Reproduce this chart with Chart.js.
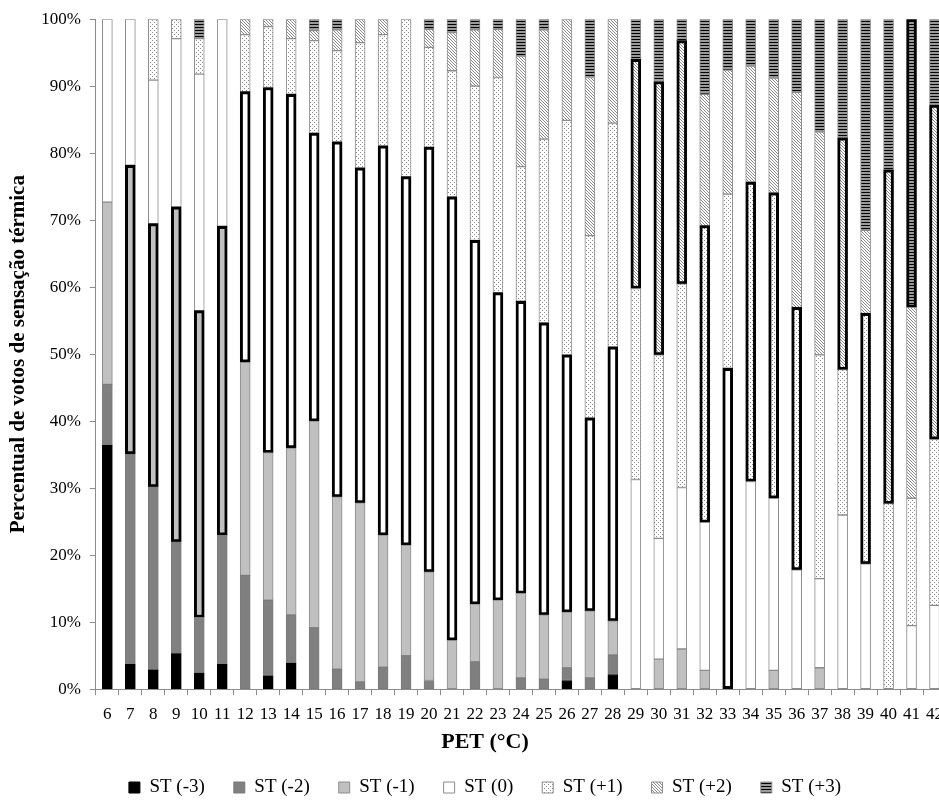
<!DOCTYPE html>
<html lang="pt">
<head>
<meta charset="utf-8">
<title>Percentual de votos de sensação térmica por PET</title>
<script src="https://cdn.jsdelivr.net/npm/chart.js@4.4.1/dist/chart.umd.min.js"></script>
<style>
    html, body { margin: 0; padding: 0; background: #fff; overflow: hidden; }
    #wrap { width: 970px; height: 802px; }
</style>
</head>
<body>
<div id="wrap"><canvas id="stChart"></canvas></div>
<script>
// --------------------- Dados -------------------
const petLabels = ['6', '7', '8', '9', '10', '11', '12', '13', '14', '15', '16', '17', '18',
    '19', '20', '21', '22', '23', '24', '25', '26', '27', '28', '29', '30', '31', '32', '33',
    '34', '35', '36', '37', '38', '39', '40', '41', '42'];

// percentual de votos por sensação térmica (ST) em cada PET
const stMenos3 = [36.4, 3.7, 2.9, 5.3, 2.4, 3.7, 0, 2.0, 3.9, 0, 0, 0, 0,
    0, 0, 0, 0, 0, 0, 0, 1.3, 0, 2.2, 0, 0, 0, 0, 0,
    0, 0, 0, 0, 0, 0, 0, 0, 0];
const stMenos2 = [9.1, 31.4, 27.3, 16.7, 8.3, 19.3, 17.0, 11.3, 7.2, 9.2, 3.0, 1.1, 3.3,
    5.0, 1.3, 0, 4.1, 0, 1.7, 1.5, 1.9, 1.7, 2.9, 0, 0, 0, 0, 0,
    0, 0, 0, 0, 0, 0, 0, 0, 0];
const stMenos1 = [27.2, 43.1, 39.3, 50.0, 45.8, 46.1, 31.8, 22.0, 24.9, 30.8, 25.7, 26.7, 19.7,
    16.5, 16.2, 7.3, 8.6, 13.3, 12.6, 9.6, 8.3, 10.0, 5.1, 0, 4.5, 6.0, 2.8, 0,
    0, 2.8, 0, 3.2, 0, 0, 0, 0, 0];
const stZero = [27.3, 21.8, 21.4, 25.1, 35.3, 30.9, 40.4, 54.5, 52.8, 43.0, 53.0, 50.0, 58.1,
    55.0, 63.4, 66.2, 54.3, 45.9, 43.6, 43.6, 38.4, 28.8, 40.9, 31.3, 18.0, 24.1, 22.1, 47.9,
    31.0, 25.7, 17.8, 13.3, 26.0, 18.7, 0, 9.5, 12.5];
const stMais1 = [0, 0, 9.1, 2.9, 5.3, 0, 8.5, 9.1, 8.3, 13.8, 13.6, 18.7, 16.6,
    23.5, 14.9, 18.8, 23.0, 32.1, 20.1, 27.4, 35.0, 27.2, 33.4, 28.5, 27.4, 30.4, 44.3, 26.0,
    44.7, 45.6, 39.2, 33.4, 21.7, 37.4, 27.7, 19.0, 24.8];
const stMais2 = [0, 0, 0, 0, 0, 0, 2.3, 1.1, 2.9, 1.5, 3.1, 3.5, 2.3,
    0, 2.7, 5.7, 8.4, 7.2, 16.5, 16.3, 15.1, 23.6, 15.5, 34.2, 40.8, 36.3, 19.6, 18.5,
    17.3, 17.1, 32.1, 33.3, 34.6, 12.4, 49.8, 28.5, 49.9];
const stMais3 = [0, 0, 0, 0, 2.9, 0, 0, 0, 0, 1.7, 1.6, 0, 0,
    0, 1.5, 2.0, 1.6, 1.5, 5.5, 1.6, 0, 8.7, 0, 6.0, 9.3, 3.2, 11.2, 7.6,
    7.0, 8.8, 10.9, 16.8, 17.7, 31.5, 22.5, 43.0, 12.8];

// sensação predominante destacada em cada PET (0 = ST -3 ... 6 = ST +3, null = nenhuma)
const destaque = [null, 2, 2, 2, 2, 2, 3, 3, 3, 3, 3, 3, 3,
    3, 3, 3, 3, 3, 3, 3, 3, 3, 3, 5, 5, 5, 4, 3,
    4, 4, 4, null, 5, 4, 5, 6, 5];

// --------------------- Hachuras -------------------
function makePattern(w, h, draw) {
    const c = document.createElement('canvas');
    c.width = w;
    c.height = h;
    const g = c.getContext('2d');
    draw(g);
    return g.createPattern(c, 'repeat');
}

const dotted = makePattern(4, 4, g => {
    g.fillStyle = '#ffffff';
    g.fillRect(0, 0, 4, 4);
    g.fillStyle = '#8a8a8a';
    g.fillRect(0, 0, 1, 1);
    g.fillRect(2, 2, 1, 1);
});

const diagonal = makePattern(3, 3, g => {
    g.fillStyle = '#ffffff';
    g.fillRect(0, 0, 3, 3);
    g.fillStyle = '#8a8a8a';
    for (let i = 0; i < 3; i++) g.fillRect(i, i, 1, 1);
});

const horizontal = makePattern(4, 3, g => {
    g.fillStyle = '#9a9a9a';
    g.fillRect(0, 0, 4, 3);
    g.fillStyle = '#000000';
    g.fillRect(0, 0, 4, 1);
});

// --------------------- Gráfico -------------------
const series = [
    { label: 'ST (-3)', data: stMenos3, fill: '#000000', edge: '#000000' },
    { label: 'ST (-2)', data: stMenos2, fill: '#808080', edge: '#7a7a7a' },
    { label: 'ST (-1)', data: stMenos1, fill: '#c0c0c0', edge: '#8c8c8c' },
    { label: 'ST (0)', data: stZero, fill: '#ffffff', edge: '#8c8c8c' },
    { label: 'ST (+1)', data: stMais1, fill: dotted, edge: '#8c8c8c' },
    { label: 'ST (+2)', data: stMais2, fill: diagonal, edge: '#8c8c8c' },
    { label: 'ST (+3)', data: stMais3, fill: horizontal, edge: '#8c8c8c' }
];

const serif = 'Liberation Serif';

const datasets = series.map((s, k) => ({
    label: s.label,
    data: s.data.map(v => (v === 0 ? null : v)),
    backgroundColor: s.fill,
    borderColor: c => (destaque[c.dataIndex] === k ? '#000000' : s.edge),
    borderWidth: c => (destaque[c.dataIndex] === k ? 3 : 1),
    borderSkipped: false,
    barThickness: 10
}));

const ctx = document.getElementById('stChart').getContext('2d');
const stChart = new Chart(ctx, {
    type: 'bar',
    data: { labels: petLabels, datasets: datasets },
    options: {
        responsive: true,
        maintainAspectRatio: false,
        animation: false,
        layout: { padding: { left: 24, right: 24, top: 18, bottom: -5 } },
        scales: {
            x: {
                stacked: true,
                grid: { display: true, drawOnChartArea: false, drawTicks: true, tickLength: 6, color: '#8c8c8c', offset: true },
                border: { color: '#8c8c8c' },
                ticks: { color: '#000', font: { family: serif, size: 17 }, maxRotation: 0, autoSkip: false, padding: 9 }
            },
            y: {
                stacked: true,
                min: 0,
                max: 100,
                grid: { display: true, drawOnChartArea: false, drawTicks: true, tickLength: 6, color: '#8c8c8c' },
                border: { color: '#8c8c8c' },
                ticks: {
                    stepSize: 10,
                    color: '#000',
                    font: { family: serif, size: 17 },
                    padding: 9,
                    callback: v => v + '%'
                },
                title: {
                    display: true,
                    text: 'Percentual de votos de sensação térmica',
                    color: '#000',
                    font: { family: serif, size: 21, weight: 'bold' },
                    padding: { top: -18, bottom: 1 }
                }
            }
        },
        plugins: {
            tooltip: { enabled: false },
            title: {
                display: true,
                text: 'PET (°C)',
                position: 'bottom',
                weight: 500,
                color: '#000',
                font: { family: serif, size: 22, weight: 'bold' },
                padding: { top: -4, bottom: -7 }
            },
            legend: {
                position: 'bottom',
                labels: {
                    color: '#000',
                    font: { family: serif, size: 19 },
                    boxWidth: 11,
                    boxHeight: 11,
                    padding: 29
                }
            }
        }
    }
});
</script>
</body>
</html>
